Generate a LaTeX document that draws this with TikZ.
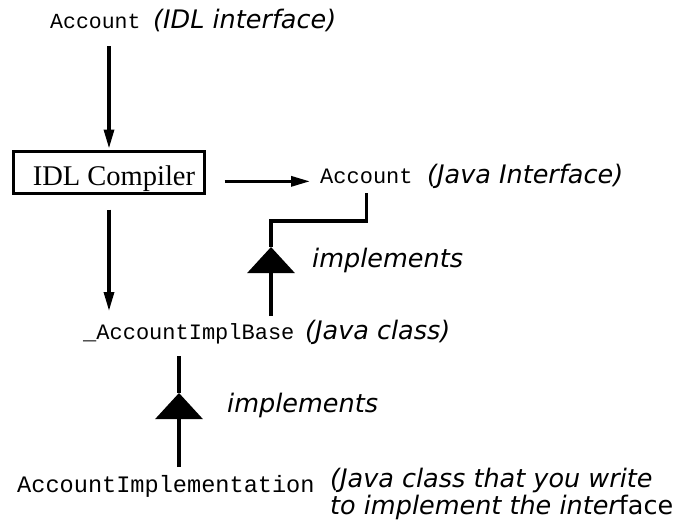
\documentclass[tikz,border=0pt]{standalone}
\usepackage{fontspec}
\usetikzlibrary{arrows.meta}
\newfontfamily\labfont{DejaVu Sans}
\newfontfamily\monofont{Liberation Mono}
\newfontfamily\seriffont{Liberation Serif}
\tikzset{
  mono/.style={inner sep=0pt, anchor=base west, font=\monofont\fontsize{22}{26}\selectfont},
  lab/.style={inner sep=0pt, anchor=base west, font=\labfont\itshape\fontsize{25.5}{27}\selectfont},
  compbox/.style={draw, line width=3pt, minimum width=191pt, minimum height=42pt, inner sep=0pt,
    text height=26pt, text depth=0pt, font=\seriffont\fontsize{28.5}{30}\selectfont},
  conn/.style={line width=3.2pt},
  arr/.style={conn, -{Triangle[length=19pt,width=10pt]}},
  tri/.style={conn, -{Triangle[length=26pt,width=47pt]}}
}
\begin{document}
\begin{tikzpicture}[x=1pt, y=-1pt]
\useasboundingbox (0,0) rectangle (680,523);

% texts
\node[mono, font=\monofont\fontsize{21.5}{26}\selectfont] (topAcc) at (50,28) {Account};
\node[lab] (topIDL) at (153,28) {(IDL interface)};
\node[compbox] (box) at (109,172.5) {\hspace*{10pt}IDL Compiler};
\node[mono] (javaAcc) at (320,183.5) {Account};
\node[lab] (javaInt) at (427,183.5) {(Java Interface)};
\node[lab] (impl1) at (312,267) {implements};
\node[mono] (baseImpl) at (83,339) {\_AccountImplBase};
\node[lab] (javaClass) at (305,339) {(Java class)};
\node[lab] (impl2) at (227,412) {implements};
\node[mono, font=\monofont\fontsize{23.6}{26}\selectfont] (implNode) at (17,492) {AccountImplementation};
\node[lab] (jc1) at (330,487) {(Java class that you write};
\node[lab] (jc2) at (330,514) {to implement the inter{\upshape face}};

% connectors
\draw[arr] ([yshift=-18pt]box.north |- topAcc.base) -- ([yshift=1.5pt]box.north);
\draw[arr] ([xshift=18.5pt]box.east |- javaAcc.mid west) -- ([xshift=-10pt]javaAcc.mid west);
\draw[arr] ([yshift=-14.5pt]box.south) -- ([yshift=28pt]box.south |- baseImpl.base);

\coordinate (ap1) at (271,247);
\coordinate (bend1) at (271,221);
\draw[tri] ([yshift=23pt]ap1 |- baseImpl.base) -- (ap1);
\draw[conn] (ap1) -- (bend1) -| ([yshift=-9.5pt]javaAcc.south);

\coordinate (ap2) at (179,393);
\draw[tri] ([yshift=25pt]ap2 |- implNode.base) -- (ap2);
\draw[conn] (ap2) -- ([yshift=-17pt]ap2 |- baseImpl.base);
\end{tikzpicture}
\end{document}
